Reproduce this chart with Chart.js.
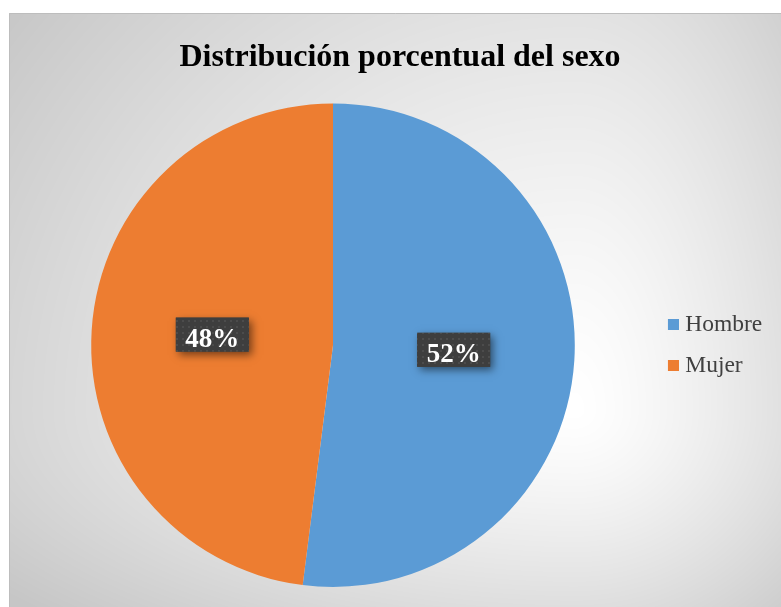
<!DOCTYPE html>
<html>
<head>
<meta charset="utf-8">
<script src="https://cdn.jsdelivr.net/npm/chart.js@4.4.1/dist/chart.umd.min.js"></script>
<style>
html,body{margin:0;padding:0;background:#fff;overflow:hidden;}
#wrap{position:absolute;left:0;top:0;width:781px;height:607px;}
canvas{display:block;}
</style>
</head>
<body>
<div id="wrap"><canvas id="c" width="781" height="607"></canvas></div>
<script>
// ---- data ----
const chartTitle = 'Distribución porcentual del sexo';
const categories = ['Hombre', 'Mujer'];
const percentValues = [52, 48];
const sliceColors = ['#5B9BD5', '#ED7D31'];

// ---- layout helpers ----
const CW = 781, CH = 607;
const serif = "'Liberation Serif', 'Times New Roman', serif";
const legendFontSize = 23.5;
const legendPad = 17;
const mctx = document.createElement('canvas').getContext('2d');
mctx.font = 'normal ' + legendFontSize + 'px ' + serif;
const T = Math.max(...categories.map(c => mctx.measureText(c).width));
const legendW = 134;
const bw = legendW - legendPad - legendFontSize / 2 - 10 - T;
const legendLeft = 673.5 - legendPad - bw;
const padL = 666 - legendLeft;
const padR = CW - legendLeft - legendW;

// legend marker images (square drawn at right part of image)
const markers = sliceColors.map(col => {
  const c = document.createElement('canvas');
  c.width = Math.round(bw + 11); c.height = 11;
  const x = c.getContext('2d');
  x.fillStyle = col;
  x.fillRect(c.width - 11, 0, 11, 11);
  return c;
});

// background gradient (pre-rendered)
const bg = document.createElement('canvas');
bg.width = CW; bg.height = CH;
(function () {
  const b = bg.getContext('2d');
  const img = b.createImageData(CW, CH);
  const cx = 575, cy = 410;
  for (let y = 0; y < CH; y++) {
    for (let x = 0; x < CW; x++) {
      let v = 255;
      if (x >= 9 && y >= 13) {
        const nx = (x - cx) / (x < cx ? 600 : 280);
        const ny = (y - cy) / (y < cy ? 560 : 250);
        let t = Math.sqrt(nx * nx + ny * ny) / 1.2;
        if (t > 1) t = 1;
        v = 255 - 57 * Math.pow(t, 1.3);
      }
      const i = (y * CW + x) * 4;
      img.data[i] = img.data[i + 1] = img.data[i + 2] = v;
      img.data[i + 3] = 255;
    }
  }
  b.putImageData(img, 0, 0);
  b.strokeStyle = '#bdbdbd';
  b.lineWidth = 1;
  b.beginPath();
  b.moveTo(9.5, CH); b.lineTo(9.5, 13.5); b.lineTo(CW, 13.5);
  b.stroke();
})();

// dotted pattern for label boxes
const pat = document.createElement('canvas');
pat.width = 6; pat.height = 6;
(function () {
  const p = pat.getContext('2d');
  p.fillStyle = '#3e3e3e'; p.fillRect(0, 0, 6, 6);
  p.fillStyle = '#4c4c4c'; p.fillRect(2, 2, 2, 2);
})();

const bgPlugin = {
  id: 'bgPlugin',
  beforeDraw(chart) {
    chart.ctx.drawImage(bg, 0, 0);
  }
};

const labelPlugin = {
  id: 'boxLabels',
  afterDatasetsDraw(chart) {
    const ctx = chart.ctx;
    const meta = chart.getDatasetMeta(0);
    const pattern = ctx.createPattern(pat, 'repeat');
    ctx.save();
    ctx.font = 'bold 27px ' + serif;
    ctx.textAlign = 'center';
    ctx.textBaseline = 'alphabetic';
    meta.data.forEach((arc, i) => {
      const p = arc.tooltipPosition();
      const txt = percentValues[i] + '%';
      const tw = ctx.measureText(txt).width;
      const w = tw + 19, h = 34;
      const cy = p.y - 3;
      const x = p.x - w / 2, y = cy - h / 2;
      ctx.save();
      ctx.shadowColor = 'rgba(0,0,0,0.5)';
      ctx.shadowBlur = 8; ctx.shadowOffsetX = 3; ctx.shadowOffsetY = 3;
      ctx.fillStyle = '#3e3e3e';
      ctx.fillRect(x, y, w, h);
      ctx.restore();
      ctx.fillStyle = pattern;
      ctx.fillRect(x, y, w, h);
      ctx.fillStyle = '#ffffff';
      ctx.fillText(txt, p.x, cy + 12);
    });
    ctx.restore();
  }
};

new Chart(document.getElementById('c'), {
  type: 'pie',
  data: {
    labels: categories,
    datasets: [{
      data: percentValues,
      backgroundColor: sliceColors,
      borderWidth: 0
    }]
  },
  options: {
    responsive: false,
    animation: false,
    devicePixelRatio: 1,
    layout: { padding: { left: padL, right: padR, top: 0, bottom: 20 } },
    plugins: {
      title: {
        display: true,
        text: chartTitle,
        color: '#000000',
        font: { family: serif, size: 32, weight: 'bold' },
        padding: { top: 39, bottom: 26 }
      },
      legend: {
        position: 'right',
        fullSize: false,
        labels: {
          color: '#404040',
          font: { family: serif, size: legendFontSize },
          padding: legendPad,
          usePointStyle: true,
          boxWidth: bw,
          generateLabels(chart) {
            const items = Chart.overrides.pie.plugins.legend.labels.generateLabels(chart);
            items.forEach((it, i) => { it.pointStyle = markers[i]; });
            return items;
          }
        }
      },
      tooltip: { enabled: false }
    }
  },
  plugins: [bgPlugin, labelPlugin]
});
</script>
</body>
</html>
